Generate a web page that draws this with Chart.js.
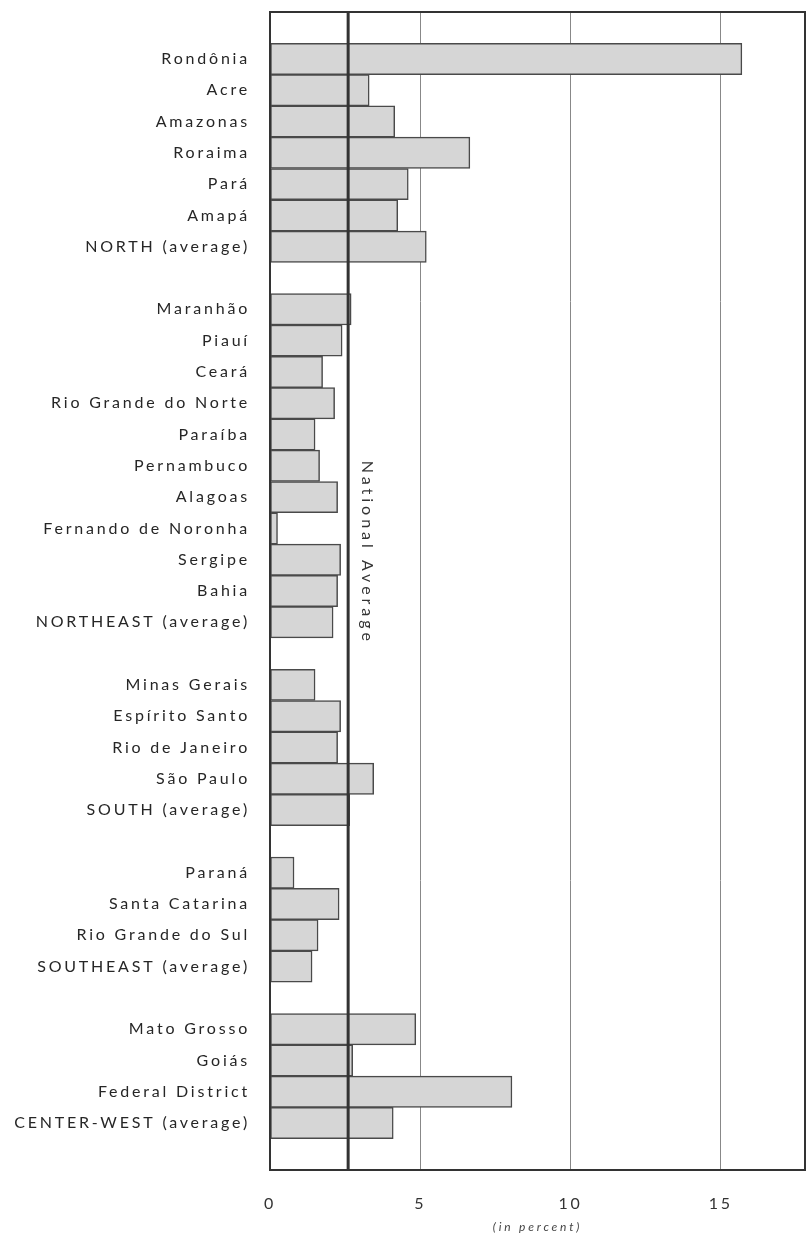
<!DOCTYPE html>
<html>
<head>
<meta charset="utf-8">
<script src="https://cdn.jsdelivr.net/npm/chart.js@4.4.0/dist/chart.umd.min.js"></script>
<style>
html, body { margin: 0; padding: 0; background: #fff; }
</style>
</head>
<body>
<canvas id="mycanvas" width="808" height="1234"></canvas>
<script>
// empty strings / nulls are the blank rows between regions
var categories = ['',
    'Rondônia', 'Acre', 'Amazonas', 'Roraima', 'Pará', 'Amapá', 'NORTH (average)', '',
    'Maranhão', 'Piauí', 'Ceará', 'Rio Grande do Norte', 'Paraíba', 'Pernambuco', 'Alagoas',
    'Fernando de Noronha', 'Sergipe', 'Bahia', 'NORTHEAST (average)', '',
    'Minas Gerais', 'Espírito Santo', 'Rio de Janeiro', 'São Paulo', 'SOUTH (average)', '',
    'Paraná', 'Santa Catarina', 'Rio Grande do Sul', 'SOUTHEAST (average)', '',
    'Mato Grosso', 'Goiás', 'Federal District', 'CENTER-WEST (average)', ''];

var values = [null,
    15.7, 3.3, 4.15, 6.65, 4.6, 4.25, 5.2, null,
    2.7, 2.4, 1.75, 2.15, 1.5, 1.65, 2.25,
    0.25, 2.35, 2.25, 2.1, null,
    1.5, 2.35, 2.25, 3.45, 2.65, null,
    0.8, 2.3, 1.6, 1.4, null,
    4.85, 2.75, 8.05, 4.1, null];

var nationalAverage = 2.6;
var xMax = 17.8;
var xStep = 5;
var xTitle = '(in percent)';
var avgLabel = 'National Average';

var framePlugin = {
    id: 'frame',
    beforeDraw: function(chart) {
        chart.ctx.letterSpacing = '2.8px';
    },
    afterDatasetsDraw: function(chart) {
        var ctx = chart.ctx;
        var area = chart.chartArea;
        var x = chart.scales.x.getPixelForValue(nationalAverage);
        ctx.save();
        ctx.strokeStyle = '#333';
        ctx.lineWidth = 3;
        ctx.beginPath();
        ctx.moveTo(x, area.top);
        ctx.lineTo(x, area.bottom);
        ctx.stroke();
        ctx.lineWidth = 2;
        ctx.strokeRect(area.left, area.top, area.right - area.left, area.bottom - area.top);
        ctx.translate(x + 19, area.top + area.height * 0.467);
        ctx.rotate(Math.PI / 2);
        ctx.fillStyle = '#333';
        ctx.font = '16px Lato';
        ctx.letterSpacing = '4px';
        ctx.textAlign = 'center';
        ctx.textBaseline = 'middle';
        ctx.fillText(avgLabel, 0, 0);
        ctx.restore();
    }
};

function noPad(scale) {
    scale.paddingTop = 0;
    scale.paddingBottom = 0;
    scale.paddingLeft = 0;
    scale.paddingRight = 0;
}

var ctx = document.getElementById('mycanvas');
var myChart = new Chart(ctx, {
    type: 'bar',
    data: {
        labels: categories,
        datasets: [{
            data: values,
            backgroundColor: '#d6d6d6',
            borderColor: '#4a4a4a',
            borderWidth: 1.5,
            borderSkipped: false,
            barPercentage: 1,
            categoryPercentage: 1
        }]
    },
    options: {
        indexAxis: 'y',
        responsive: false,
        animation: false,
        events: [],
        layout: { padding: { top: 12, right: 3, left: 0, bottom: 0 } },
        plugins: {
            legend: { display: false },
            tooltip: { enabled: false }
        },
        scales: {
            x: {
                min: 0,
                max: xMax,
                afterFit: function(scale) { scale.height = 64; noPad(scale); },
                border: { display: false },
                grid: { color: '#888', lineWidth: 1, drawTicks: false },
                ticks: {
                    stepSize: xStep,
                    includeBounds: false,
                    padding: 24,
                    color: '#333',
                    font: { family: 'Lato', size: 16 }
                },
                title: {
                    display: true,
                    text: xTitle,
                    color: '#444',
                    padding: 0,
                    font: { family: 'Lato', size: 12, style: 'italic' }
                }
            },
            y: {
                afterFit: function(scale) { scale.width = 270; noPad(scale); },
                border: { display: false },
                grid: { display: false, drawTicks: false },
                ticks: {
                    autoSkip: false,
                    padding: 20,
                    color: '#262626',
                    font: { family: 'Lato', size: 16 }
                }
            }
        }
    },
    plugins: [framePlugin]
});
</script>
</body>
</html>
